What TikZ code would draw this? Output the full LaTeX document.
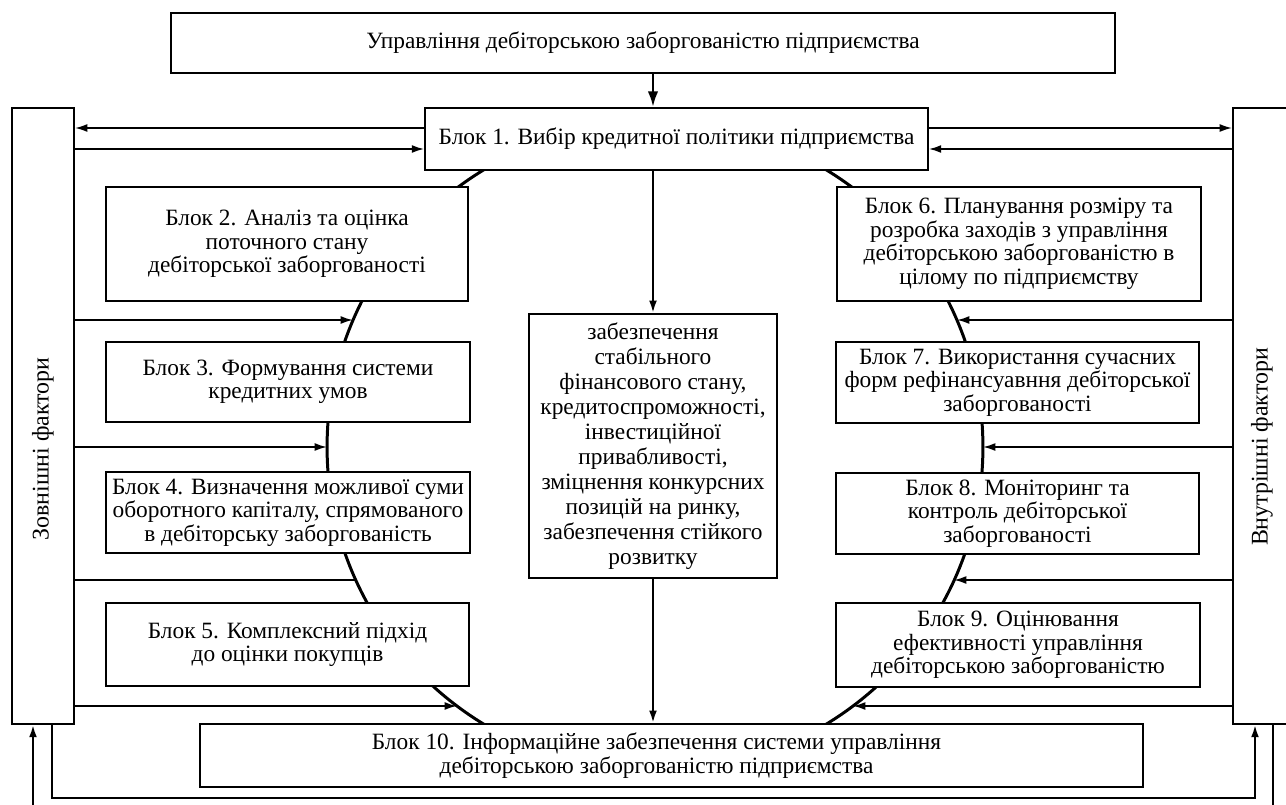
\documentclass[tikz,border=0pt]{standalone}
\usepackage{fontspec}
\setmainfont{Liberation Serif}
\usetikzlibrary{arrows.meta}

\begin{document}
\begin{tikzpicture}[x=0.02cm, y=-0.02cm, >={Latex[length=7pt,width=4.5pt]},
        block/.style={draw, line width=1.3pt, fill=white, align=center, inner sep=1.5pt,
            font=\fontsize{13.3}{13.4}\selectfont},
        side/.style={draw, line width=1.1pt, fill=white, minimum height=12.32cm},
        sidetext/.style={rotate=90, font=\fontsize{13.6}{14}\selectfont},
        link/.style={line width=1pt},
        spine/.style={line width=1.7pt}]

        \useasboundingbox (0,0) rectangle (1286,805);

        % Spine behind the blocks
        \coordinate (hub) at (655,447);
        \draw[spine] (hub) ellipse [x radius=6.56cm, y radius=6.5cm];

        % Top and Block 1
        \node[block, minimum width=18.88cm, minimum height=1.2cm] (top) at (643,43)
            {Управління дебіторською заборгованістю підприємства};
        \node[block, line width=1pt, minimum width=10.06cm, minimum height=1.24cm] (b1) at (676.5,139)
            {Блок 1. Вибір кредитної політики підприємства};

        % Factors
        \node[side, minimum width=1.24cm] (ext) at (43,416) {};
        \node[sidetext] (extlabel) at (43,449) {Зовнішні фактори};
        \node[side, minimum width=1.18cm] (int) at (1262.5,416) {};
        \node[sidetext] (intlabel) at (1262,447) {Внутрішні фактори};

        % Left blocks
        \node[block, minimum width=7.24cm, minimum height=2.28cm] (b2) at (287,244)
            {Блок 2. Аналіз та оцінка\\ поточного стану\\ дебіторської заборгованості};
        \node[block, minimum width=7.28cm, minimum height=1.6cm] (b3) at (288,382)
            {Блок 3. Формування системи\\ кредитних умов};
        \node[block, minimum width=7.28cm, minimum height=1.62cm] (b4) at (288,512.5)
            {Блок 4. Визначення можливої суми\\ оборотного капіталу, спрямованого\\ в дебіторську заборгованість};
        \node[block, minimum width=7.26cm, minimum height=1.66cm] (b5) at (287.5,644.5)
            {Блок 5. Комплексний підхід\\ до оцінки покупців};

        % Right blocks
        \node[block, minimum width=7.28cm, minimum height=2.28cm] (b6) at (1019,244)
            {Блок 6. Планування розміру та\\ розробка заходів з управління\\ дебіторською заборгованістю в\\ цілому по підприємству};
        \node[block, minimum width=7.26cm, minimum height=1.62cm] (b7) at (1017.5,382.5)
            {Блок 7. Використання сучасних\\ форм рефінансуавння дебіторської\\ заборгованості};
        \node[block, minimum width=7.26cm, minimum height=1.62cm] (b8) at (1017.5,513.5)
            {Блок 8. Моніторинг та\\ контроль дебіторської\\ заборгованості};
        \node[block, minimum width=7.28cm, minimum height=1.68cm] (b9) at (1018,645)
            {Блок 9. Оцінювання\\ ефективності управління\\ дебіторською заборгованістю};

        % Middle and Block 10
        \node[block, font=\fontsize{13.3}{14.2}\selectfont, minimum width=4.96cm, minimum height=5.28cm] (mid) at (653,446)
            {забезпечення\\ стабільного\\ фінансового стану,\\ кредитоспроможності,\\ інвестиційної\\ привабливості,\\
             зміцнення конкурсних\\ позицій на ринку,\\ забезпечення стійкого\\ розвитку};
        \node[block, minimum width=18.86cm, minimum height=1.26cm] (b10) at (671.5,755.5)
            {Блок 10. Інформаційне забезпечення системи управління\hspace*{0.6cm}\\ дебіторською заборгованістю підприємства\hspace*{0.6cm}};

        % Points on the spine
        \coordinate (l1) at (353,320);
        \coordinate (l2) at (327,447);
        \coordinate (l3) at (356,580);
        \coordinate (l4) at (457,706);
        \coordinate (r1) at (957,320);
        \coordinate (r2) at (983,447);
        \coordinate (r3) at (954,580);
        \coordinate (r4) at (853,706);

        % Main arrows
        \draw[line width=1.6pt, -{Latex[length=9pt,width=6pt]}] (mid.north |- top.south) -- (mid.north |- b1.north);
        \draw[line width=1.2pt, ->] (mid.north |- b1.south) -- (mid.north);
        \draw[line width=1.2pt, ->] (mid.south) -- (mid.south |- b10.north);

        % Block 1 and the factors
        \draw[link, ->] (b1.west |- 0,128) -- (ext.east |- 0,128);
        \draw[link, ->] (ext.east |- 0,149) -- (b1.west |- 0,149);
        \draw[link, ->] (b1.east |- 0,128) -- (int.west |- 0,128);
        \draw[link, ->] (int.west |- 0,149) -- (b1.east |- 0,149);

        % Factors to the spine
        \draw[link, ->] (ext.east |- l1) -- (l1);
        \draw[link, ->] (ext.east |- l2) -- (l2);
        \draw[link] (ext.east |- l3) -- (l3);
        \draw[link, ->] (ext.east |- l4) -- (l4);
        \draw[link, ->] (int.west |- r1) -- (r1);
        \draw[link, ->] (int.west |- r2) -- (r2);
        \draw[link, ->] (int.west |- r3) -- (r3);
        \draw[link, ->] (int.west |- r4) -- (r4);

        % Bottom loop
        \coordinate (extin) at (33,805);
        \coordinate (intout) at (1273,805);
        \draw[link, line width=1.2pt, ->] (extin) -- (extin |- ext.south);
        \draw[link, line width=1.2pt, ->] (ext.south -| 52,0) |- (1255,798) -- (int.south -| 1255,0);
        \draw[link, line width=1.2pt] (int.south -| intout) -- (intout);

    \end{tikzpicture}
\end{document}
